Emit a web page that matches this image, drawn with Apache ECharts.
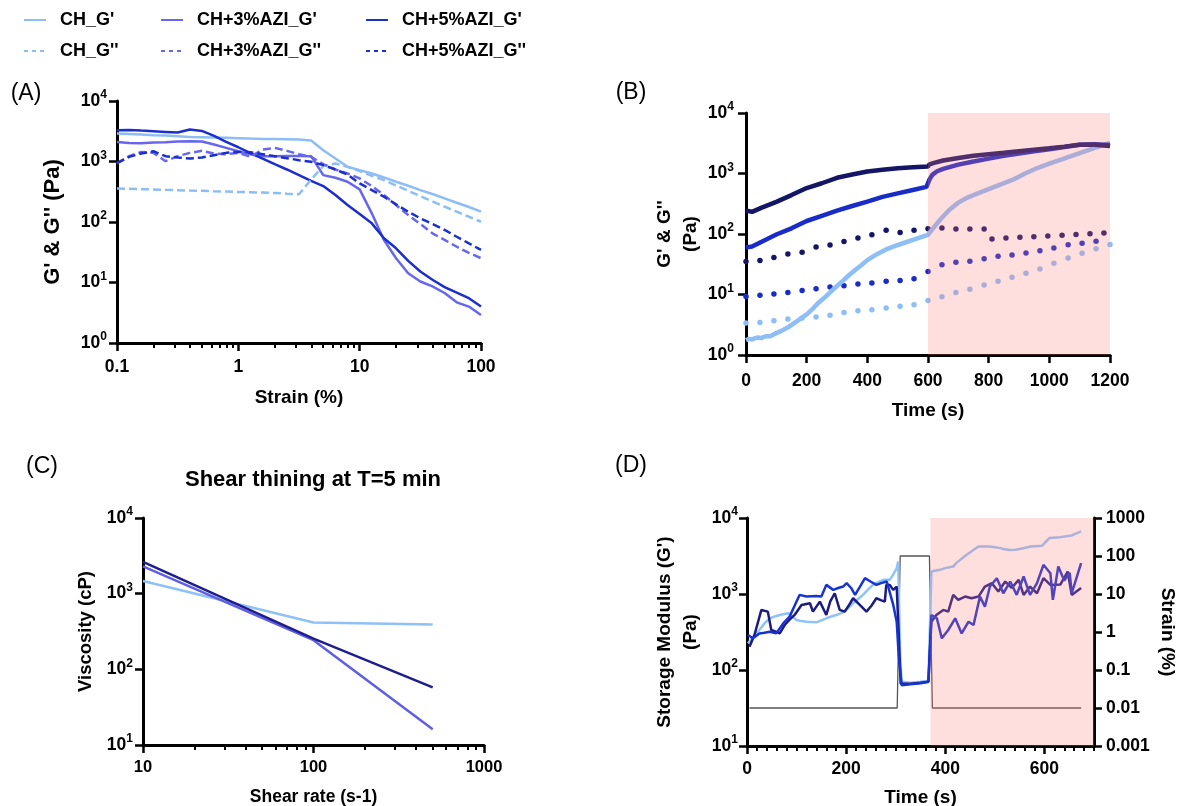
<!DOCTYPE html>
<html><head><meta charset="utf-8">
<script src="https://cdn.jsdelivr.net/npm/echarts@6/dist/echarts.min.js"></script>
<style>html,body{margin:0;padding:0;background:#fff}#c{width:1182px;height:806px}</style>
</head><body><div id="c"></div>
<script>
// ---------- Panel A : amplitude sweep ----------
const strainA = [0.1,0.1259,0.1585,0.1995,0.2512,0.3162,0.3981,0.5012,0.631,0.7943,1,1.259,1.585,1.995,2.512,3.162,3.981,5.012,6.31,7.943,10,12.59,15.85,19.95,25.12,31.62,39.81,50.12,63.1,79.43,100];
const aCH_Gp   = [2900,2860,2790,2720,2680,2620,2550,2520,2490,2460,2430,2390,2360,2360,2330,2300,2220,1540,1120,820,720,634,545,462,397,337,290,246,208,177,148];
const aCH_Gpp  = [359,354,349,345,340,336,331,327,322,318,314,310,306,302,294,287,505,838,927,817,693,581,492,402,328,268,219,179,148,122,101];
const aCH3_Gp  = [2110,2030,2005,2056,2083,2137,2163,2137,1905,1679,1479,1320,1224,1224,1238,1238,1224,596,538,462,346,139,50.5,25.2,14.2,10.4,8.6,6.7,4.7,4.0,2.9];
const aCH3_Gpp = [927,1225,1442,1389,1012,1225,1389,1500,1355,1321,1389,1194,1577,1680,1500,1321,1194,903,738,634,525,392,279,191,130,93,65,50.5,39,31,25.2];
const aCH5_Gp  = [3280,3325,3240,3160,3085,3010,3370,3200,2650,2110,1720,1371,1120,903,738,596,480,392,279,191,135,95,53.8,36.8,22.8,15.2,11.1,8.4,6.8,5.5,4.0];
const aCH5_Gpp = [951,1194,1355,1480,1225,1164,1120,1164,1272,1389,1442,1425,1321,1225,1135,1052,988,870,738,610,434,337,262,196,148,115,93,74,57,44.5,34.5];

// ---------- Panel B : time sweep ----------
const bNavyGp = [[0,245],[20,232],[50,270],[100,340],[150,440],[200,575],[250,690],[300,850],[350,960],[400,1080],[450,1150],[500,1220],[550,1265],[600,1310],[605,1420],[620,1500],[650,1640],[700,1800],[750,1960],[800,2080],[850,2200],[900,2340],[950,2480],[1000,2620],[1050,2780],[1100,2990],[1150,3000],[1200,2850]];
const bBlueGp = [[0,60],[20,62],[50,74],[100,98],[150,124],[200,164],[250,200],[300,243],[350,290],[400,344],[450,410],[500,470],[550,535],[595,600],[600,612],[605,800],[615,960],[630,1090],[650,1190],[700,1400],[750,1580],[800,1760],[850,1960],[900,2140],[950,2330],[1000,2520],[1050,2740],[1100,2990],[1150,3050],[1200,2950]];
const bLightGp = [[0,1.75],[10,1.85],[20,1.8],[30,1.9],[40,1.95],[50,1.9],[60,2.0],[70,2.05],[80,2.05],[100,2.3],[120,2.55],[140,2.9],[160,3.4],[180,4.0],[200,4.7],[220,5.8],[240,7.4],[260,9.0],[280,11.2],[300,13.8],[320,17],[340,21],[360,25.5],[380,30.5],[400,37],[430,46],[460,55],[490,63],[520,71],[560,83],[600,97],[620,130],[640,172],[670,250],[700,330],[730,400],[760,460],[800,550],[840,660],[880,790],[920,1000],[960,1230],[1000,1450],[1050,1780],[1100,2180],[1150,2650],[1200,3200]];
const bDotTimes = [0,46,92,138,185,231,277,323,369,415,462,508,554,600,646,692,738,785,831,877,923,969,1015,1062,1108,1154,1200];
const bLightGpp = [3.38,3.46,3.69,3.94,4.09,4.25,4.52,5.06,5.4,5.61,5.98,6.37,6.79,7.98,9.2,10.8,12.2,14.3,16.5,19.3,22.5,26.5,32.7,40,48,57,67];
const bBlueGpp  = [9.3,9.7,10.2,10.8,11.6,12.5,13.3,14,14.9,15.5,16.5,17.1,18.2,24.1,31.1,34,35.3,39,42.7,45,48.6,53,58.7,66.5,70,76];
const bNavyDotTimes = [0,46,92,138,185,231,277,323,369,415,462,508,554,600,646,692,738,785,811,857,903,949,995,1042,1088,1134,1180];
const bNavyGpp  = [35,36.6,41,46.7,50,61,66,75,86,97,115,106,115,122,126,121,121,121,83,86,88,90,93,95,98,101,104];
const pinkB = [600, 1200];

// ---------- Panel C : shear thinning ----------
const cShear = [10, 100, 500];
const cCH  = [1473, 416, 391];
const cCH3 = [2301, 243, 16.1];
const cCH5 = [2626, 255, 57.7];

// ---------- Panel D : recovery ----------
const dStrain = [[5,0.01],[303,0.01],[309,100],[368,100],[374,0.01],[674,0.01]];
const dLight = [[2,224],[12,270],[25,336],[35,410],[46,479],[56,505],[66,530],[75,545],[83,557],[92,500],[100,455],[110,440],[120,432],[130,428],[140,424],[150,450],[160,479],[170,505],[180,530],[190,560],[197,586],[205,660],[214,755],[224,860],[234,973],[244,1140],[254,1318],[264,1420],[275,1535],[288,1535],[296,1850],[302,2188],[305,2680],[309,150],[312,70],[330,68],[350,70],[366,72],[372,1977],[389,2080],[400,2190],[416,2296],[422,2550],[443,3280],[467,4220],[490,4220],[512,4015],[517,3900],[530,3800],[542,3820],[557,4000],[572,4220],[595,4300],[610,5450],[632,5600],[655,5900],[674,6650]];
const dBlue = [[2,289],[12,261],[25,303],[35,310],[46,319],[59,303],[73,411],[86,504],[96,700],[106,973],[120,925],[130,935],[140,944],[150,925],[160,1318],[174,1133],[184,1200],[194,1254],[201,1387],[210,1200],[218,973],[228,1250],[238,1614],[250,1450],[261,1318],[272,1400],[282,1459],[295,718],[302,432],[306,157],[312,63],[330,65],[350,67],[366,70],[372,530],[383,479],[393,261],[406,336],[420,479],[433,303],[447,432],[457,391],[470,925],[480,683],[490,1254],[504,1614],[517,1023],[531,1459],[544,973],[558,1700],[571,973],[585,1387],[598,2421],[612,1879],[617,836],[628,2297],[640,1500],[651,1900],[655,1023],[674,2546]];
const dNavy = [[5,202],[15,289],[29,617],[42,586],[49,336],[58,320],[66,303],[76,391],[86,460],[96,530],[110,718],[127,755],[133,586],[147,794],[160,530],[168,800],[177,1023],[187,617],[197,586],[205,700],[214,879],[231,683],[241,586],[251,700],[261,879],[270,830],[278,794],[281,1318],[288,1318],[295,1133],[302,1254],[306,300],[310,66],[330,66],[350,68],[366,70],[372,432],[382,530],[396,617],[406,586],[416,973],[426,836],[440,925],[453,879],[467,925],[480,1254],[494,1387],[507,1077],[521,1459],[534,1200],[548,1535],[558,973],[571,1254],[585,1023],[598,1614],[612,1318],[632,1330],[647,1977],[655,973],[674,1200]];
const pinkD = [370, 700];

// ---------- tick label values ----------
const ticksA_x = [0.1, 1, 10, 100];
const ticksLogY4 = [1, 10, 100, 1000, 10000];
const ticksLogY3 = [10, 100, 1000, 10000];
const ticksC_x = [10, 100, 1000];
const ticksD_x = [0, 200, 400, 600];
const ticksD_right = [0.001, 0.01, 0.1, 1, 10, 100, 1000];

function logMinor(decStarts){ const out=[]; decStarts.forEach(b=>{ for(let m=2;m<=9;m++) out.push(Number((b*m).toPrecision(6))); }); return out; }
const minorA = logMinor([0.1, 1, 10]);
const minorC = logMinor([10, 100]);
const minorD = []; for (let v=20; v<=700; v+=20) if (v%200!==0) minorD.push(v);

const FONT = '"Liberation Sans", Arial, sans-serif';
const PINK = 'rgba(255,123,123,0.25)';
const zip = (xs, ys) => ys.map((y,i)=>[xs[i], y]);

const lineAx = {show:true, onZero:false, lineStyle:{color:'#000', width:3}};
const tickMaj = (vals)=>({show:true, length:8, lineStyle:{color:'#000', width:2.5}, customValues: vals});
const tickMin = (vals)=>({show:true, length:5, lineStyle:{color:'#000', width:2}, customValues: vals});
const nameStyle = (fs, lh)=>({fontFamily:FONT, fontWeight:'bold', fontSize:fs, color:'#000', lineHeight: lh || (fs+6)});
const plainLabel = (vals, margin, fs)=>({show:true, customValues: vals, margin: margin, fontFamily:FONT, fontWeight:'bold', fontSize:fs, color:'#000', formatter: v => String(v)});
const powLabel = (vals, margin)=>({show:true, customValues: vals, margin: margin,
  formatter: v => '{b|10}{s|' + Math.round(Math.log10(v)) + '}',
  rich:{ b:{fontFamily:FONT, fontWeight:'bold', fontSize:17.5, color:'#000', lineHeight:24},
         s:{fontFamily:FONT, fontWeight:'bold', fontSize:12, color:'#000', lineHeight:12, verticalAlign:'top'} } });

function hiddenMinorAxis(gridIndex, type, min, max, vals){
  return {type:type, gridIndex:gridIndex, position:'bottom', min:min, max:max, logBase:10,
    axisLine:{show:false}, axisTick:tickMin(vals), axisLabel:{show:false}, splitLine:{show:false}};
}

const xAxes = [
  {type:'log', logBase:10, gridIndex:0, position:'bottom', min:0.1, max:100, axisLine:lineAx, axisTick:tickMaj(ticksA_x), axisLabel:plainLabel(ticksA_x, 15, 17.5), splitLine:{show:false},
   name:'Strain (%)', nameLocation:'middle', nameGap:42, nameTextStyle:nameStyle(19)},
  hiddenMinorAxis(0, 'log', 0.1, 100, minorA),
  {type:'value', gridIndex:1, position:'bottom', min:0, max:1200, interval:200, axisLine:lineAx, axisTick:{show:true, length:8, lineStyle:{color:'#000', width:2.5}}, axisLabel:{margin:17, fontFamily:FONT, fontWeight:'bold', fontSize:17.5, color:'#000', formatter: v => String(v)}, splitLine:{show:false},
   name:'Time (s)', nameLocation:'middle', nameGap:43, nameTextStyle:nameStyle(19)},
  {type:'log', logBase:10, gridIndex:2, position:'bottom', min:10, max:1000, axisLine:lineAx, axisTick:tickMaj(ticksC_x), axisLabel:plainLabel(ticksC_x, 14, 16.5), splitLine:{show:false},
   name:'Shear rate (s-1)', nameLocation:'middle', nameGap:40, nameTextStyle:nameStyle(17.5)},
  hiddenMinorAxis(2, 'log', 10, 1000, minorC),
  {type:'value', gridIndex:3, position:'bottom', min:0, max:700, axisLine:lineAx, axisTick:tickMaj(ticksD_x), axisLabel:plainLabel(ticksD_x, 14, 17.5), splitLine:{show:false},
   name:'Time (s)', nameLocation:'middle', nameGap:39, nameTextStyle:nameStyle(19)},
  hiddenMinorAxis(3, 'value', 0, 700, minorD)
];

const yAxes = [
  {type:'log', logBase:10, gridIndex:0, min:1, max:10000, axisLine:lineAx, axisTick:tickMaj(ticksLogY4), axisLabel:powLabel(ticksLogY4, 10), splitLine:{show:false},
   name:"G' & G'' (Pa)", nameLocation:'middle', nameGap:50, nameTextStyle:nameStyle(22, 28)},
  {type:'log', logBase:10, gridIndex:1, min:1, max:10000, axisLine:lineAx, axisTick:tickMaj(ticksLogY4), axisLabel:powLabel(ticksLogY4, 12), splitLine:{show:false},
   name:"G' & G''\n(Pa)", nameLocation:'middle', nameGap:41, nameTextStyle:nameStyle(19, 26)},
  {type:'log', logBase:10, gridIndex:2, min:10, max:10000, axisLine:lineAx, axisTick:tickMaj(ticksLogY3), axisLabel:powLabel(ticksLogY3, 10), splitLine:{show:false},
   name:'Viscosity (cP)', nameLocation:'middle', nameGap:45, nameTextStyle:nameStyle(18.5)},
  {type:'log', logBase:10, gridIndex:3, min:10, max:10000, axisLine:lineAx, axisTick:tickMaj(ticksLogY3), axisLabel:powLabel(ticksLogY3, 9), splitLine:{show:false},
   name:"Storage Modulus (G')\n(Pa)", nameLocation:'middle', nameGap:43, nameTextStyle:nameStyle(19, 26)},
  {type:'log', logBase:10, gridIndex:3, position:'right', min:0.001, max:1000, axisLine:lineAx, axisTick:tickMaj(ticksD_right), axisLabel:plainLabel(ticksD_right, 12, 17.5), splitLine:{show:false},
   name:'Strain (%)', nameLocation:'middle', nameRotate:-90, nameGap:62, nameTextStyle:nameStyle(19, 22)}
];

const A_LIGHT='#8dbdf6', A_MED='#6767ee', A_DARK='#1c2fcc';
const B_NAVY='#151566', B_BLUE='#1a2cc8', B_LIGHT='#8ebef6';
const C_NAVY='#1f1f8c', C_MED='#5f5fe6', C_LIGHT='#8fc0f6';
const D_NAVY='#1b1b80', D_BLUE='#1733d2', D_LIGHT='#8fc3f8';

function lineS(name, xi, yi, data, color, width, dash, z){
  return {name:name, type:'line', xAxisIndex:xi, yAxisIndex:yi, data:data, symbol:'none', showSymbol:false,
    lineStyle:{color:color, width:width, type: dash || 'solid'}, itemStyle:{color:color}, z: z||2, silent:true};
}
function dotS(name, xi, yi, data, color){
  return {name:name, type:'scatter', xAxisIndex:xi, yAxisIndex:yi, data:data, symbol:'circle', symbolSize:5.5,
    itemStyle:{color:color, opacity:1}, z:3, silent:true};
}
function pinkRender(params, api){
  const cs = params.coordSys;
  const x0 = api.coord([api.value(0), api.value(1)])[0];
  const x1 = api.coord([api.value(2), api.value(1)])[0];
  return {type:'rect', shape:{x:x0, y:cs.y, width:x1-x0, height:cs.height}, style:{fill:PINK}};
}

const DASH = [8,4];
const series = [
  // A
  lineS("CH_G'", 0, 0, zip(strainA, aCH_Gp), A_LIGHT, 2.5),
  lineS("CH+3%AZI_G'", 0, 0, zip(strainA, aCH3_Gp), A_MED, 2.5),
  lineS("CH+5%AZI_G'", 0, 0, zip(strainA, aCH5_Gp), A_DARK, 2.5),
  lineS("CH_G''", 0, 0, zip(strainA, aCH_Gpp), A_LIGHT, 2.5, DASH),
  lineS("CH+3%AZI_G''", 0, 0, zip(strainA, aCH3_Gpp), A_MED, 2.5, DASH),
  lineS("CH+5%AZI_G''", 0, 0, zip(strainA, aCH5_Gpp), A_DARK, 2.5, DASH),
  // B
  dotS('B_CH_Gpp', 2, 1, zip(bDotTimes, bLightGpp), B_LIGHT),
  dotS('B_CH3_Gpp', 2, 1, zip(bDotTimes, bBlueGpp), B_BLUE),
  dotS('B_CH5_Gpp', 2, 1, zip(bNavyDotTimes, bNavyGpp), B_NAVY),
  lineS('B_CH_Gp', 2, 1, bLightGp, B_LIGHT, 4.5, null, 4),
  lineS('B_CH3_Gp', 2, 1, bBlueGp, B_BLUE, 4.5, null, 4),
  lineS('B_CH5_Gp', 2, 1, bNavyGp, B_NAVY, 4.5, null, 4),
  {name:'B_pink', type:'custom', xAxisIndex:2, yAxisIndex:1, data:[[pinkB[0], 100, pinkB[1]]], renderItem:pinkRender, z:10, silent:true},
  // C
  lineS('C_CH', 3, 2, zip(cShear, cCH), C_LIGHT, 2.5),
  lineS('C_CH3', 3, 2, zip(cShear, cCH3), C_MED, 2.5),
  lineS('C_CH5', 3, 2, zip(cShear, cCH5), C_NAVY, 2.5),
  // D
  lineS('D_strain', 5, 4, dStrain, '#555555', 1.3),
  lineS('D_CH', 5, 3, dLight, D_LIGHT, 2.5),
  lineS('D_CH5', 5, 3, dNavy, D_NAVY, 2.5),
  lineS('D_CH3', 5, 3, dBlue, D_BLUE, 2.5),
  {name:'D_pink', type:'custom', xAxisIndex:5, yAxisIndex:3, data:[[pinkD[0], 100, pinkD[1]]], renderItem:pinkRender, z:10, silent:true}
];

function leg(name, left, top, dashed){
  const l = {data:[name], left:left, top:top, padding:0, itemWidth:22, itemHeight:12, selectedMode:false,
    itemStyle:{opacity:0},
    formatter: '{t|{name}}',
    textStyle:{fontFamily:FONT, fontWeight:'bold', fontSize:18, color:'#000', rich:{t:{fontFamily:FONT, fontWeight:'bold', fontSize:18, color:'#000', padding:[0,0,0,9]}}}};
  if (dashed) l.lineStyle = {type:[4,4]};
  return l;
}
const legends = [
  leg("CH_G'", 23, 11), leg("CH+3%AZI_G'", 160, 11), leg("CH+5%AZI_G'", 365, 11),
  leg("CH_G''", 23, 42, true), leg("CH+3%AZI_G''", 160, 42, true), leg("CH+5%AZI_G''", 365, 42, true)
];

function gtext(txt, x, y, font){
  return {type:'text', x:x, y:y, silent:true,
    style:{text:txt, font:font, fill:'#000', align:'center', verticalAlign:'middle', textAlign:'center', textVerticalAlign:'middle'}};
}

const option = {
  animation:false,
  backgroundColor:'#ffffff',
  textStyle:{fontFamily:FONT},
  grid:[
    {left:117, top:101, width:364, height:242, containLabel:false, outerBoundsMode:'none'},
    {left:746, top:113, width:364, height:242, containLabel:false, outerBoundsMode:'none'},
    {left:143, top:518, width:341, height:227, containLabel:false, outerBoundsMode:'none'},
    {left:747, top:518, width:347, height:228, containLabel:false, outerBoundsMode:'none'}
  ],
  legend: legends,
  xAxis: xAxes,
  yAxis: yAxes,
  series: series,
  graphic:[
    gtext('(A)', 26, 94, '23px "Liberation Sans", Arial, sans-serif'),
    gtext('(B)', 631, 93, '23px "Liberation Sans", Arial, sans-serif'),
    gtext('(C)', 42, 467, '23px "Liberation Sans", Arial, sans-serif'),
    gtext('(D)', 631, 466, '23px "Liberation Sans", Arial, sans-serif'),
    gtext('Shear thining at T=5 min', 313, 480, 'bold 22px "Liberation Sans", Arial, sans-serif')
  ]
};
const chart = echarts.init(document.getElementById('c'), null, {renderer:'canvas'});
chart.setOption(option);
</script>
</body></html>
